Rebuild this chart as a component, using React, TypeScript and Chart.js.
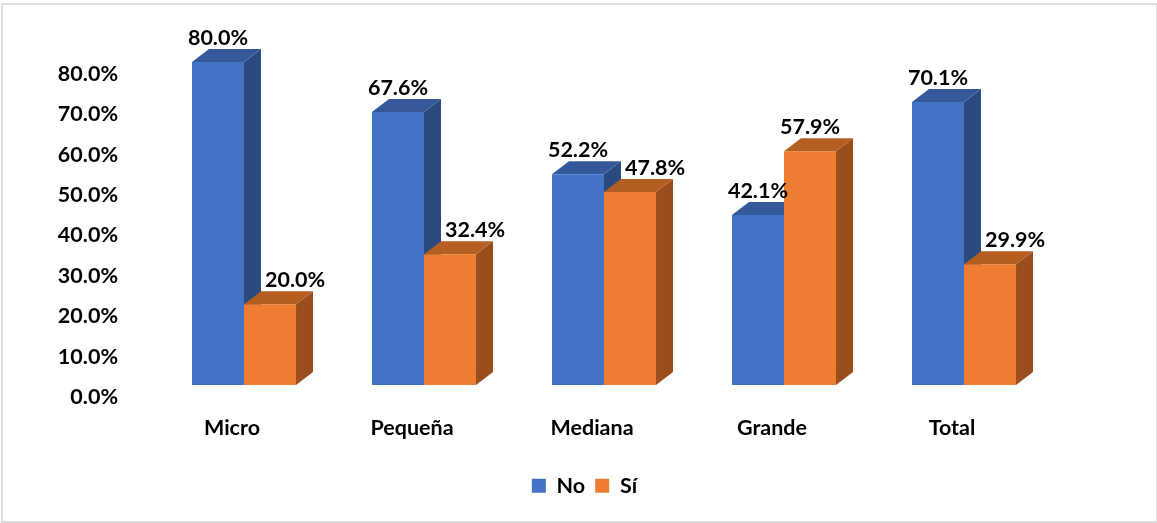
import React, { useEffect, useRef } from "react";
import { Chart, registerables } from "chart.js";

Chart.register(...registerables);

const categories = ["Micro", "Pequeña", "Mediana", "Grande", "Total"];
const seriesNames = ["No", "Sí"];
const noValues = [0.8, 0.676, 0.522, 0.421, 0.701];
const siValues = [0.2, 0.324, 0.478, 0.579, 0.299];
const yMin = 0;
const yMax = 0.8;
const yStep = 0.1;

const frontColors = ["#4472C4", "#ED7D31"];
const topColors = ["#34589A", "#B55E22"];
const sideColors = ["#2B4A7F", "#9A4E1C"];

const FONT = "Lato, 'Noto Sans', sans-serif";
const FSIZE = 21.5;
const DX = 17;
const DY = 13;

const fmtPct = (v: number) => (v * 100).toFixed(1) + "%";

const bar3dPlugin = {
  id: "bar3d",
  beforeDatasetsDraw(chart: any) {
    const ctx = chart.ctx;
    ctx.save();
    chart.data.datasets.forEach((_ds: any, di: number) => {
      const meta = chart.getDatasetMeta(di);
      meta.data.forEach((el: any) => {
        const { x, y, base, width } = el.getProps(["x", "y", "base", "width"], true);
        const l = x - width / 2;
        const r = x + width / 2;
        ctx.fillStyle = sideColors[di];
        ctx.beginPath();
        ctx.moveTo(r, y);
        ctx.lineTo(r + DX, y - DY);
        ctx.lineTo(r + DX, base - DY);
        ctx.lineTo(r, base);
        ctx.closePath();
        ctx.fill();
        ctx.fillStyle = topColors[di];
        ctx.beginPath();
        ctx.moveTo(l, y);
        ctx.lineTo(l + DX, y - DY);
        ctx.lineTo(r + DX, y - DY);
        ctx.lineTo(r, y);
        ctx.closePath();
        ctx.fill();
      });
    });
    ctx.restore();
  },
};

const labelPlugin = {
  id: "barLabels",
  afterDatasetsDraw(chart: any) {
    const ctx = chart.ctx;
    ctx.save();
    ctx.font = "bold " + FSIZE + "px " + FONT;
    ctx.fillStyle = "#000000";
    ctx.textAlign = "center";
    ctx.textBaseline = "middle";
    chart.data.datasets.forEach((ds: any, di: number) => {
      const meta = chart.getDatasetMeta(di);
      meta.data.forEach((el: any, i: number) => {
        const { x, y } = el.getProps(["x", "y"], true);
        const v = ds.data[i];
        let shift = 0;
        if (di === 1 && v < chart.data.datasets[0].data[i]) shift = 25;
        ctx.fillText(fmtPct(v), x + shift, y - 24);
      });
    });
    ctx.restore();
  },
};

export default function App() {
  const ref = useRef<HTMLCanvasElement | null>(null);

  useEffect(() => {
    if (!ref.current) return;
    const chart = new Chart(ref.current, {
      type: "bar",
      data: {
        labels: categories,
        datasets: [
          {
            label: seriesNames[0],
            data: noValues,
            backgroundColor: frontColors[0],
            borderWidth: 0,
            categoryPercentage: 0.578,
            barPercentage: 1,
          },
          {
            label: seriesNames[1],
            data: siValues,
            backgroundColor: frontColors[1],
            borderWidth: 0,
            categoryPercentage: 0.578,
            barPercentage: 1,
          },
        ],
      },
      options: {
        animation: false,
        responsive: false,
        maintainAspectRatio: false,
        layout: { padding: { top: 62, left: 12, right: 0, bottom: 16.5 } },
        scales: {
          x: {
            grid: { display: false, drawTicks: false },
            border: { display: false },
            ticks: {
              color: "#000000",
              font: { family: FONT, size: FSIZE, weight: "bold" },
              padding: 30,
              labelOffset: -12,
              maxRotation: 0,
            },
            afterFit: (s: any) => {
              s.height = 80;
            },
          },
          y: {
            min: yMin,
            max: yMax,
            grid: { display: false, drawTicks: false },
            border: { display: false },
            ticks: {
              stepSize: yStep,
              color: "#000000",
              font: { family: FONT, size: FSIZE, weight: "bold" },
              padding: 36,
              labelOffset: 12,
              callback: (v: any) => fmtPct(Number(v)),
            },
            afterFit: (s: any) => {
              s.width = 142;
            },
          },
          y2: {
            position: "right",
            min: yMin,
            max: yMax,
            grid: { display: false, drawTicks: false },
            border: { display: false },
            ticks: { display: false },
            afterFit: (s: any) => {
              s.width = 103;
            },
          },
        },
        plugins: {
          legend: {
            position: "bottom",
            labels: {
              boxWidth: 14,
              boxHeight: 14,
              padding: 10,
              color: "#000000",
              font: { family: FONT, size: FSIZE, weight: "bold" },
            },
          },
          tooltip: { enabled: false },
        },
      },
      plugins: [bar3dPlugin, labelPlugin],
    } as any);
    return () => chart.destroy();
  }, []);

  return (
    <div style={{ position: "fixed", left: 0, top: 0, width: 1157, height: 523, background: "#ffffff" }}>
      <canvas ref={ref} width={1157} height={523} style={{ display: "block", width: 1157, height: 523 }} />
      <div
        style={{
          position: "absolute",
          left: 1,
          top: 3,
          width: 1153,
          height: 516,
          border: "2px solid #dedede",
          pointerEvents: "none",
        }}
      />
    </div>
  );
}
